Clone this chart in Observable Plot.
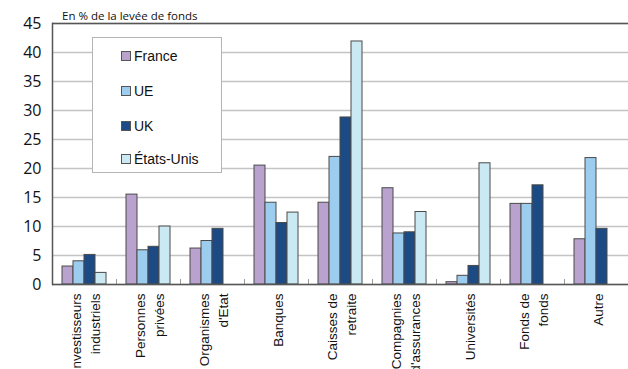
<!DOCTYPE html>
<html>
<head>
<meta charset="utf-8">
<script src="https://cdn.jsdelivr.net/npm/d3@7"></script>
<script src="https://cdn.jsdelivr.net/npm/@observablehq/plot@0.6"></script>
<style>
  html, body { margin: 0; padding: 0; background: #fff; }
  #wrap { position: relative; width: 628px; height: 369px; overflow: hidden; font-family: "Liberation Sans", Arial, sans-serif; }
  #title { position: absolute; left: 62px; top: 8px; font-size: 11.5px; font-family: "Open Sans", "Liberation Sans", sans-serif; color: #111; white-space: nowrap; }
  #legend { position: absolute; left: 92px; top: 37px; width: 130px; height: 136px; background: #fff; border: 1px solid #b5b5b5; box-sizing: border-box; }
  .item { position: absolute; left: 28px; height: 18px; display: flex; align-items: center; font-size: 14px; color: #111; }
  .sw { width: 8px; height: 8px; border: 1px solid #555; margin-right: 3px; }
</style>
</head>
<body>
<div id="wrap">
  <div id="chart"></div>
  <div id="title">En % de la levée de fonds</div>
  <div id="legend"></div>
</div>
<script>
const categories = ["Investisseurs\nindustriels", "Personnes\nprivées", "Organismes\nd'Etat", "Banques", "Caisses de\nretraite", "Compagnies\nd'assurances", "Universités", "Fonds de\nfonds", "Autre"];
const seriesNames = ["France", "UE", "UK", "États-Unis"];
const seriesColors = ["#b9a2cd", "#9dcdee", "#1b4a84", "#cbe9f3"];
const france = [3.1, 15.5, 6.2, 20.5, 14.1, 16.6, 0.4, 13.9, 7.8];
const ue = [4.0, 5.9, 7.5, 14.1, 22.0, 8.8, 1.5, 13.9, 21.8];
const uk = [5.1, 6.5, 9.6, 10.6, 28.8, 9.0, 3.2, 17.1, 9.6];
const us = [2.0, 10.0, null, 12.4, 41.9, 12.5, 20.9, null, null];
const yTicks = [0, 5, 10, 15, 20, 25, 30, 35, 40, 45];

const seriesValues = [france, ue, uk, us];
const data = [];
categories.forEach((c, i) => {
  seriesNames.forEach((s, j) => {
    const v = seriesValues[j][i];
    if (v != null) data.push({cat: c, series: s, value: v});
  });
});

const chart = Plot.plot({
  width: 628,
  height: 369,
  marginLeft: 51,
  marginRight: 0,
  marginTop: 23,
  marginBottom: 85,
  style: {fontFamily: "'Liberation Sans', Arial, sans-serif", background: "#fff", overflow: "visible"},
  fx: {domain: categories, padding: 0, axis: null},
  x: {domain: seriesNames, paddingInner: 0, paddingOuter: 0.72, axis: null},
  y: {domain: [0, 45], axis: null},
  color: {domain: seriesNames, range: seriesColors},
  marks: [
    Plot.gridY(yTicks, {stroke: "#c4c4c4", strokeOpacity: 1, strokeWidth: 1.5}),
    Plot.axisY(yTicks, {tickSize: 0, tickPadding: 11, fontSize: 16, fill: "#111", label: null, fontFamily: "'Open Sans', 'Liberation Sans', sans-serif"}),
    Plot.frame({anchor: "left", insetTop: 256, stroke: "#999", strokeWidth: 1}),
    Plot.barY(data, {fx: "cat", x: "series", y: "value", fill: "series", stroke: "#4a4a4a", strokeWidth: 1, insetLeft: 0, insetRight: 0}),
    Plot.ruleY([0], {stroke: "#555", strokeWidth: 1.5}),
    Plot.ruleY([45], {stroke: "#555", strokeWidth: 1.5}),
    Plot.frame({anchor: "left", facetAnchor: "left", stroke: "#555", strokeWidth: 1.5}),
    Plot.text(categories, {fx: d => d, text: d => d, frameAnchor: "bottom", rotate: -90, textAnchor: "end", lineAnchor: "middle", lineHeight: 1.4, dy: 9, fontSize: 13.5, fill: "#111"})
  ]
});
document.getElementById("chart").appendChild(chart);

const legend = document.getElementById("legend");
const rowTops = [9, 44, 79, 112];
seriesNames.forEach((s, i) => {
  const item = document.createElement("div");
  item.className = "item";
  item.style.top = rowTops[i] + "px";
  const sw = document.createElement("span");
  sw.className = "sw";
  sw.style.background = seriesColors[i];
  item.appendChild(sw);
  item.appendChild(document.createTextNode(s));
  legend.appendChild(item);
});
</script>
</body>
</html>
